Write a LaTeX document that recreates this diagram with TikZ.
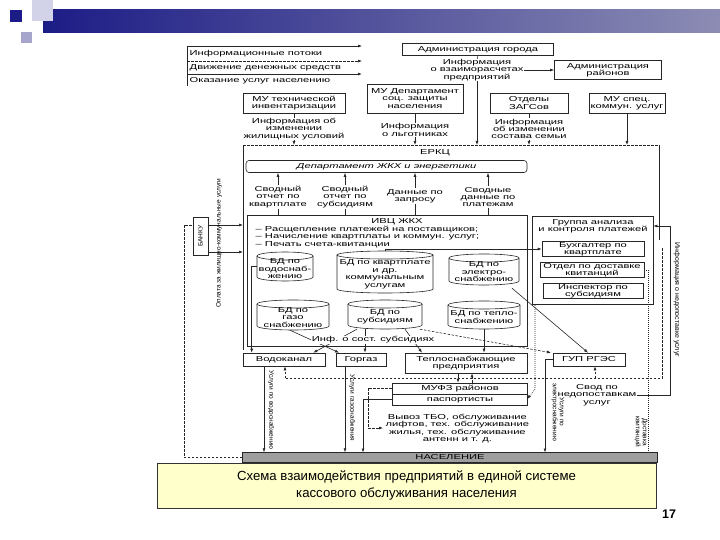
\documentclass[tikz,border=0pt]{standalone}
\usepackage{fontspec}
\setmainfont{Liberation Sans}
\newfontfamily\scanfont{Liberation Sans}[FakeStretch=1.55]
\usetikzlibrary{arrows.meta,calc}
\definecolor{navy}{HTML}{1C1C86}
\definecolor{barend}{HTML}{8C8CB4}
\definecolor{lav}{HTML}{A6A6CC}
\definecolor{lightlav}{HTML}{D2D2E8}
\definecolor{capyellow}{HTML}{FFFFCC}
\definecolor{ink}{HTML}{262626}
\newcommand\dgtxt{\scanfont\fontsize{7.2}{7.4}\selectfont}
\newcommand\dgrot{\fontsize{6.5}{7}\selectfont}
\newcommand\dbcyl[6]{%
  \draw[ln] ({#2-#5},{#3+4}) -- ({#2-#5},{#4-4}) arc[start angle=180,end angle=360,x radius=#5pt,y radius=4pt] -- ({#2+#5},{#3+4});
  \draw[ln] (#2,{#3+4}) ellipse[x radius=#5pt,y radius=4pt];
  \node[tx, minimum width={2*#5pt}, minimum height={#4-#3}] (#1) at (#2,{(#3+#4)/2}) {};
  \node[tx] at (#2,{(#3+#4)/2+2.2}) {#6};
}
\begin{document}
\begin{tikzpicture}[x=1pt,y=-1pt,
  ln/.style={draw=ink, line width=0.6pt},
  arr/.style={ln, -{Latex[length=4pt,width=3pt]}},
  dsh/.style={dash pattern=on 2.5pt off 1.5pt},
  dtt/.style={dash pattern=on 0.8pt off 1.2pt},
  bx/.style={draw=ink, line width=0.6pt, inner sep=0pt, align=center, font=\dgtxt},
  tx/.style={inner sep=0.5pt, align=center, font=\dgtxt},
  rt/.style={inner sep=0.5pt, align=center, font=\dgrot}]
\useasboundingbox (0,0) rectangle (720,540);
% ---- slide decoration
\shade[left color=navy, right color=barend] (43,10) rectangle (720,33);
\fill[lightlav] (32,0) rectangle (53,21);
\fill[navy] (10,10) rectangle (22,22);
\fill[lav] (21,32) rectangle (32,43);
% ---- legend
\draw[arr] (187,46) -- (362,46);
\node[tx, anchor=west] (lgt1) at (189,54) {Информационные потоки};
\draw[arr, dsh] (187,61) -- (362,61);
\node[tx, anchor=west] (lgt2) at (189,67.5) {Движение денежных средств};
\draw[arr, line width=0.9pt] (187,74) -- (362,74);
\node[tx, anchor=west] (lgt3) at (189,80.5) {Оказание услуг населению};
\draw[ln] (187,46) -- (187,86);
% ---- top right
\node[bx, minimum width=151pt, minimum height=12pt] (admg) at (478,49.5) {Администрация города};
\node[bx, minimum width=107pt, minimum height=19pt] (admr) at (608,70) {Администрация\\районов};
\coordinate (e4) at (477,145);
\draw[ln] (admg) -- (477,70);
\draw[arr] (477,70) -- (e4);
\node[tx, fill=white] (vzr) at (477,70) {Информация\\о взаиморасчетах\\предприятий};
\draw[arr] (vzr) -- (admr);
% ---- second row
\node[bx, minimum width=102pt, minimum height=20pt] (mut) at (294,103) {МУ технической\\инвентаризации};
\node[bx, minimum width=96pt, minimum height=29pt] (mud) at (415,98.5) {МУ Департамент\\соц. защиты\\населения};
\node[bx, minimum width=78pt, minimum height=20pt] (zags) at (529,103) {Отделы\\ЗАГСов};
\node[bx, minimum width=76pt, minimum height=20pt] (mus) at (627,103) {МУ спец.\\коммун. услуг};
\coordinate (e1) at (294,145);
\coordinate (e2) at (415,145);
\coordinate (e3) at (529,145);
\coordinate (e5) at (627,145);
\draw[arr] (mut) -- (e1);
\draw[arr] (mud) -- (e2);
\draw[arr] (zags) -- (e3);
\draw[arr] (mus) -- (e5);
\node[tx, fill=white] (inf1) at (294,129) {Информация об\\изменении\\жилищных условий};
\node[tx, fill=white] (inf2) at (415,130) {Информация\\о льготниках};
\node[tx, fill=white] (inf3) at (529,129) {Информация\\об изменении\\состава семьи};
% ---- ERKC frame
\draw[ln, dsh] (243,145) -- (660,145);
\draw[ln] (243,145) -- (243,350);
\draw[ln] (659,145) -- (659,240);
\node[tx] (erkc) at (435,153) {ЕРКЦ};
\node[bx, rounded corners=3pt, minimum width=281pt, minimum height=12pt, font=\dgtxt\itshape] (dep) at (386.5,166.5) {Департамент ЖКХ и энергетики};
\node[tx] (r1) at (278,197) {Сводный\\отчет по\\квартплате};
\node[tx] (r2) at (345,197) {Сводный\\отчет по\\субсидиям};
\node[tx] (r3) at (415,196) {Данные по\\запросу};
\node[tx] (r4) at (488,197) {Сводные\\данные по\\платежам};
\draw[arr] (r1) -- (r1 |- dep.south);
\draw[arr] (r2) -- (r2 |- dep.south);
\draw[arr] (r3) -- (r3 |- dep.south);
\draw[arr] (r4) -- (r4 |- dep.south);
% IVC
\node[draw=ink, line width=0.6pt, minimum width=280pt, minimum height=131pt, inner sep=0pt] (ivc) at (387,280.5) {};
\draw[ln] (r1.south) -- (r1.south |- ivc.north);
\draw[ln] (r2.south) -- (r2.south |- ivc.north);
\draw[ln] (r3.south) -- (r3.south |- ivc.north);
\draw[ln] (r4.south) -- (r4.south |- ivc.north);
\node[tx] (ivct) at (397,222) {ИВЦ ЖКХ};
\node[tx, anchor=north west, align=left] (ivcl) at (255,225.5) {– Расщепление платежей на поставщиков;\\– Начисление квартплаты и коммун. услуг;\\– Печать счета-квитанции};
% databases
\dbcyl{dbv}{285}{252}{281}{28}{БД по\\водоснаб-\\жению}
\dbcyl{dbk}{385}{251}{293}{48}{БД по квартплате\\и др.\\коммунальным\\услугам}
\dbcyl{dbe}{484}{254}{285}{35}{БД по\\электро-\\снабжению}
\dbcyl{dbg}{293}{300}{330}{36}{БД по\\газо\\снабжению}
\dbcyl{dbs}{385}{300}{329}{37}{БД по\\субсидиям}
\dbcyl{dbt}{484}{301}{329}{36}{БД по тепло-\\снабжению}
% group
\node[draw=ink, line width=0.6pt, minimum width=121pt, minimum height=88pt, inner sep=0pt] (grp) at (592.5,260.5) {};
\node[tx] (grpt) at (593,226) {Группа анализа\\и контроля платежей};
\node[bx, minimum width=102pt, minimum height=15pt] (buh) at (593,249) {Бухгалтер по\\квартплате};
\node[bx, minimum width=104pt, minimum height=15pt] (otd) at (592,270) {Отдел по доставке\\квитанций};
\node[bx, minimum width=100pt, minimum height=15pt] (insp) at (593,291) {Инспектор по\\субсидиям};
\draw[arr] (dbk.north) |- (buh.west);
% enterprises
\node[bx, minimum width=82pt, minimum height=13pt] (vod) at (284,359.5) {Водоканал};
\node[bx, minimum width=50pt, minimum height=13pt] (gorgaz) at (361,359.5) {Горгаз};
\node[bx, minimum width=122pt, minimum height=20pt] (teplo) at (466,363) {Теплоснабжающие\\предприятия};
\node[bx, minimum width=72pt, minimum height=13pt] (gup) at (589,359.5) {ГУП РГЭС};
\draw[arr] (dbv.west) -| ([xshift=9pt]vod.north west);
\draw[arr] ([xshift=-3pt]dbg.south) -- ([xshift=-22pt]gorgaz.north);
\draw[arr] ([xshift=-28pt]dbs.south) -- ([xshift=-12pt]vod.north east);
\draw[arr] ([xshift=-20pt]dbs.south) -- ([xshift=4pt]gorgaz.north);
\draw[arr] ([xshift=20pt]dbs.south) -- ([xshift=-44pt]teplo.north);
\draw[arr] (dbt.south) -- (dbt.south |- teplo.north);
\draw[arr, dsh] ([xshift=35pt]dbs.south) -- ([xshift=-38pt]gup.north);
\draw[arr] ([xshift=28pt,yshift=-3pt]dbe.south) -- ([xshift=-1pt]gup.north);
\node[tx, fill=white] (insub) at (373,340) {Инф. о сост. субсидиях};
% MUFZ
\node[draw=ink, line width=0.6pt, minimum width=135pt, minimum height=22pt, inner sep=0pt] (mufz) at (459.5,394) {};
\draw[ln] (mufz.west |- 0,394) -- (mufz.east |- 0,394);
\node[tx] (mufz1) at (460,388.5) {МУФЗ районов};
\node[tx] (mufz2) at (460,400) {паспортисты};
\draw[arr] ([xshift=-8pt]teplo.south) -- ([xshift=-8pt]teplo.south |- mufz.north);
\draw[arr, dsh] ([xshift=6pt]teplo.south |- mufz.north) -- ([xshift=6pt]teplo.south);
% population
\node[draw=ink, fill=black!38, minimum width=415pt, minimum height=10pt, inner sep=0pt, font=\dgtxt] (nas) at (450,457.5) {НАСЕЛЕНИЕ};
% services to population
\draw[arr] ([xshift=-20pt]vod.south) -- ([xshift=-20pt]vod.south |- nas.north);
\node[rt, rotate=-90] (lv) at (271,410) {Услуги по водоснабжению};
\draw[arr] ([xshift=-16pt]gorgaz.south) -- ([xshift=-16pt]gorgaz.south |- nas.north);
\node[rt, rotate=-90] (lg) at (352,408) {Услуги газоснабжения};
\draw[arr] ([yshift=-5.5pt]mufz.west) -| (363,452.5);
\coordinate (tbo) at (383,428);
\draw[arr, dsh] ([yshift=6pt]mufz.west) -| (368,428) -- (tbo);
\node[tx, anchor=west] (vyvoz) at (385,428.5) {Вывоз ТБО, обслуживание\\лифтов, тех. обслуживание\\жилья, тех. обслуживание\\антенн и т. д.};
% right part
\draw[arr] (gup.west) -| (545,452.5);
\node[rt, rotate=-90] (le) at (558,412) {Услуги по\\электроснабжению};
\node[tx] (svod) at (597,395) {Свод по\\недопоставкам\\услуг};
\coordinate (rc) at (670,392);
\draw[arr] (svod.east) -- (rc |- svod.east) -- (rc |- grpt) -- (grpt -| grp.east);
\draw[ln, dsh] (662,248) -- (662,378) -- (285,378);
\draw[arr, dsh] (285,378) -- (vod.south -| 285,0);
\draw[arr, dsh] (595,378) -- (gup.south -| 595,0);
\draw[ln, dtt] (otd.east) -| (648,452.5);
\node[rt, rotate=-90] (ld) at (641,432) {Доставка\\квитанций};
\draw[arr, dtt] (535,305) -- (535,389) -- ([yshift=-5pt]mufz.east);
\node[rt, rotate=-90, font=\fontsize{7}{8}\selectfont] (dog) at (677,300) {Информация о недопоставке услуг};
% bank
\node[bx, rotate=90, minimum width=38pt, minimum height=15pt, font=\dgrot] (bank) at (200.5,236) {БАНКУ};
\coordinate (bk1) at (243,225);
\coordinate (bk2) at (243,252);
\draw[arr] (bank.south |- bk1) -- (bk1);
\draw[arr] (bank.south |- bk2) -- (bk2);
\node[rt, rotate=90] (opl) at (219,243) {Оплата за жилищно-коммунальные услуги};
\draw[ln, dsh] (nas.west) -| (184,225) -- (bank.north |- bk1);
% caption
\node[draw=black!80, fill=capyellow, minimum width=499pt, minimum height=45pt, inner sep=0pt, align=center, font=\fontsize{13.2}{17}\selectfont] (cap) at (406.5,485.5) {Схема взаимодействия предприятий в единой системе\\кассового обслуживания населения};
\node[font=\bfseries\fontsize{12.5}{14}\selectfont] (pg) at (669,514) {17};
\end{tikzpicture}
\end{document}
